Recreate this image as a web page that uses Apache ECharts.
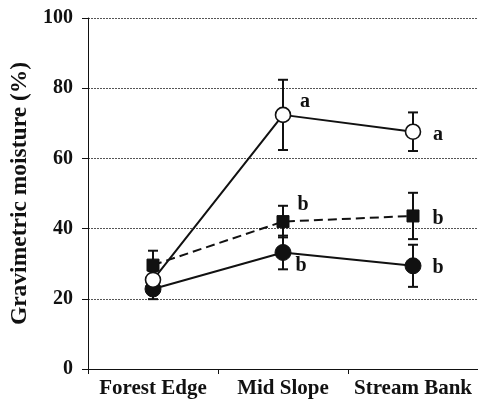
<!DOCTYPE html>
<html><head><meta charset="utf-8">
<script src="https://cdn.jsdelivr.net/npm/echarts@6/dist/echarts.min.js"></script>
<style>html,body{margin:0;padding:0;background:#fff}#c{width:478px;height:400px}</style>
</head><body><div id="c"></div>
<script>
const categories = ['Forest Edge', 'Mid Slope', 'Stream Bank'];
const yTicks = [0, 20, 40, 60, 80, 100];
const openMean = [25.4, 72.4, 67.6];
const openErr = [2.5, 10.0, 5.5];
const openLetters = ['', 'a', 'a'];
const squareMean = [29.6, 42.0, 43.6];
const squareErr = [4.1, 4.5, 6.6];
const squareLetters = ['', 'b', 'b'];
const filledMean = [22.8, 33.2, 29.4];
const filledErr = [2.9, 4.8, 6.0];
const filledLetters = ['', 'b', 'b'];

const FONT = 'Liberation Serif';
const INK = '#111';

const openOffsets = [[0,0],[22,-13],[25,3]];
const squareOffsets = [[0,0],[20,-17],[25,3]];
const filledOffsets = [[0,0],[18,13],[25,2]];

function withLabels(means, letters, offsets) {
  return means.map((v, i) => ({
    value: v,
    label: {
      show: letters[i] !== '',
      formatter: letters[i],
      position: 'inside',
      offset: offsets[i],
      fontFamily: FONT, fontWeight: 'bold', fontSize: 20, color: INK
    }
  }));
}
function errData(means, errs) {
  return means.map((m, i) => [i, m - errs[i], m + errs[i]]);
}
function errSeries(means, errs, z) {
  return {
    type: 'custom', z: z,
    data: errData(means, errs),
    renderItem: function (params, api) {
      const lo = api.coord([api.value(0), api.value(1)]);
      const hi = api.coord([api.value(0), api.value(2)]);
      const w = 5;
      const st = { stroke: INK, lineWidth: 2 };
      return { type: 'group', children: [
        { type: 'line', shape: { x1: lo[0], y1: lo[1], x2: hi[0], y2: hi[1] }, style: st },
        { type: 'line', shape: { x1: lo[0]-w, y1: lo[1], x2: lo[0]+w, y2: lo[1] }, style: st },
        { type: 'line', shape: { x1: hi[0]-w, y1: hi[1], x2: hi[0]+w, y2: hi[1] }, style: st }
      ]};
    }
  };
}

const chart = echarts.init(document.getElementById('c'), null, { renderer: 'canvas' });
chart.setOption({
  animation: false,
  backgroundColor: '#fff',
  grid: { left: 88, right: -3, top: 18, bottom: 31 },
  xAxis: {
    type: 'category', data: categories, boundaryGap: true,
    axisLine: { lineStyle: { color: INK, width: 1 } },
    axisTick: { show: true, length: 5, lineStyle: { color: INK } },
    axisLabel: { interval: 0, hideOverlap: false, fontFamily: FONT, fontWeight: 'bold', fontSize: 21, color: INK, margin: 9 }
  },
  yAxis: {
    type: 'value', min: yTicks[0], max: yTicks[yTicks.length - 1], interval: 20,
    name: 'Gravimetric moisture (%)', nameLocation: 'middle', nameRotate: 90, nameGap: 55,
    nameTextStyle: { fontFamily: FONT, fontWeight: 'bold', fontSize: 23.5, color: INK },
    axisLine: { show: true, lineStyle: { color: INK, width: 1 } },
    axisTick: { show: true, length: 6, lineStyle: { color: INK } },
    axisLabel: { fontFamily: FONT, fontWeight: 'bold', fontSize: 20, color: INK, margin: 15 },
    splitLine: { show: true, lineStyle: { color: '#555', type: [2, 1], width: 1 } }
  },
  series: [
    errSeries(openMean, openErr, 3),
    errSeries(squareMean, squareErr, 3),
    errSeries(filledMean, filledErr, 3),
    {
      type: 'line', z: 4, data: withLabels(filledMean, filledLetters, filledOffsets),
      symbol: 'circle', symbolSize: 16,
      lineStyle: { color: INK, width: 2 },
      itemStyle: { color: INK, borderColor: INK, borderWidth: 1 }
    },
    {
      type: 'line', z: 5, data: withLabels(squareMean, squareLetters, squareOffsets),
      symbol: 'rect', symbolSize: 12,
      lineStyle: { color: INK, width: 2, type: [9, 5] },
      itemStyle: { color: INK, borderColor: INK, borderWidth: 1 }
    },
    {
      type: 'line', z: 6, data: withLabels(openMean, openLetters, openOffsets),
      symbol: 'circle', symbolSize: 15,
      lineStyle: { color: INK, width: 2 },
      itemStyle: { color: '#fff', borderColor: INK, borderWidth: 1.6 }
    }
  ]
});
</script></body></html>
